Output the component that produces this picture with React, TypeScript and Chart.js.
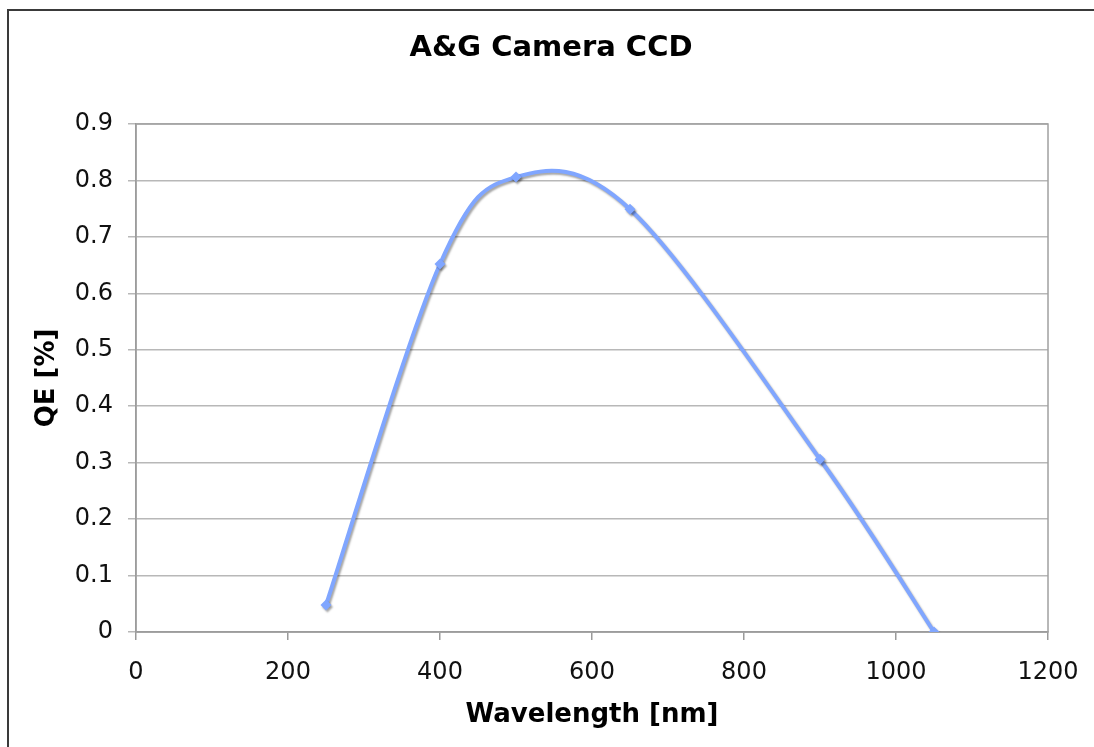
import React, { useEffect, useRef } from "react";
import { Chart, registerables } from "chart.js";

Chart.register(...registerables);

const wavelengths = [250, 400, 500, 650, 900, 1050];
const qeValues = [0.048, 0.652, 0.806, 0.749, 0.306, 0.0];
const chartTitle = "A&G Camera CCD";
const xTitle = "Wavelength [nm]";
const yTitle = "QE [%]";
const xMin = 0;
const xMax = 1200;
const xStep = 200;
const yMin = 0;
const yMax = 0.9;
const yStep = 0.1;

const FONT = "'DejaVu Sans', Verdana, sans-serif";
const LINE_COLOR = "rgb(128,166,255)";

export default function App() {
  const ref = useRef<HTMLCanvasElement>(null);

  useEffect(() => {
    if (!ref.current) return;

    const framePlugin = {
      id: "frame",
      beforeDraw(chart: any) {
        const ctx = chart.ctx;
        ctx.save();
        ctx.fillStyle = "#ffffff";
        ctx.fillRect(0, 0, chart.width, chart.height);
        ctx.fillStyle = "#3a3a3a";
        ctx.fillRect(7, 9, 2, chart.height);
        ctx.fillRect(7, 9, chart.width, 2);
        ctx.restore();
      },
      beforeDatasetsDraw(chart: any) {
        const { ctx, chartArea } = chart;
        ctx.save();
        ctx.strokeStyle = "#a0a0a0";
        ctx.lineWidth = 1.5;
        ctx.strokeRect(chartArea.left, chartArea.top, chartArea.right - chartArea.left, chartArea.bottom - chartArea.top);
        ctx.restore();
      },
    };

    // Excel-like smoothing: uniform Catmull-Rom control points (1/6 of neighbour chord)
    const smoothPlugin = {
      id: "excelSmooth",
      beforeDatasetDraw(chart: any, args: any) {
        const meta = args.meta;
        const line = meta.dataset;
        if (!line) return;
        line.updateControlPoints(chart.chartArea, "x");
        const pts = meta.data;
        const n = pts.length;
        for (let i = 0; i < n; i++) {
          const p = pts[i];
          const prev = pts[Math.max(i - 1, 0)];
          const next = pts[Math.min(i + 1, n - 1)];
          const dx = (next.x - prev.x) / 6;
          const dy = (next.y - prev.y) / 6;
          p.cp1x = p.x - dx;
          p.cp1y = p.y - dy;
          p.cp2x = p.x + dx;
          p.cp2y = p.y + dy;
        }
        const ctx = chart.ctx;
        ctx.save();
        ctx.shadowColor = "rgba(0,0,0,0.35)";
        ctx.shadowOffsetX = 1.5;
        ctx.shadowOffsetY = 2;
        ctx.shadowBlur = 2;
      },
      afterDatasetDraw(chart: any) {
        chart.ctx.restore();
      },
    };

    const chart = new Chart(ref.current, {
      type: "line",
      data: {
        datasets: [
          {
            label: "QE",
            data: wavelengths.map((w, i) => ({ x: w, y: qeValues[i] })),
            borderColor: LINE_COLOR,
            backgroundColor: LINE_COLOR,
            borderWidth: 4,
            tension: 0.4,
            pointStyle: "rectRot",
            pointRadius: 5.5,
            pointBorderWidth: 0,
            pointBackgroundColor: LINE_COLOR,
          },
        ],
      },
      options: {
        animation: false,
        responsive: true,
        maintainAspectRatio: false,
        layout: { padding: { left: 54, right: 46, top: 0, bottom: 0 } },
        plugins: {
          legend: { display: false },
          tooltip: { enabled: false },
          title: {
            display: true,
            text: chartTitle,
            color: "#000",
            font: { family: FONT, size: 29, weight: "bold", lineHeight: 1.2 },
            padding: { top: 31.5, bottom: 57.7 },
          },
        },
        scales: {
          x: {
            type: "linear",
            min: xMin,
            max: xMax,
            afterFit: (s: any) => {
              s.height = 115;
              s.paddingLeft = 0;
              s.paddingRight = 0;
            },
            ticks: {
              stepSize: xStep,
              color: "#111",
              padding: 18,
              maxRotation: 0,
              font: { family: FONT, size: 24 },
              callback: (v: any) => String(v),
            },
            grid: {
              drawOnChartArea: false,
              drawTicks: true,
              tickLength: 8,
              color: "#9a9a9a",
              lineWidth: 1.5,
            },
            border: { display: true, color: "#909090", width: 1.5 },
            title: {
              display: true,
              text: xTitle,
              color: "#000",
              font: { family: FONT, size: 26, weight: "bold", lineHeight: 1.2 },
              padding: { top: 0, bottom: 16 },
            },
          },
          y: {
            type: "linear",
            min: yMin,
            max: yMax,
            afterFit: (s: any) => {
              s.width = 82;
            },
            ticks: {
              stepSize: yStep,
              color: "#111",
              padding: 15,
              font: { family: FONT, size: 24 },
              callback: (v: any) => String(Number(Number(v).toFixed(1))),
            },
            grid: {
              drawOnChartArea: true,
              drawTicks: true,
              tickLength: 8,
              color: "#b8b8b8",
              lineWidth: 1.5,
            },
            border: { display: true, color: "#909090", width: 1.5 },
            title: {
              display: true,
              text: yTitle,
              color: "#000",
              font: { family: FONT, size: 26, weight: "bold", lineHeight: 1.2 },
              padding: { top: -22, bottom: 0 },
            },
          },
        },
      },
      plugins: [framePlugin, smoothPlugin],
    } as any);

    return () => chart.destroy();
  }, []);

  return (
    <div style={{ position: "fixed", left: 0, top: 0, width: 1094, height: 747, background: "#fff" }}>
      <canvas ref={ref} />
    </div>
  );
}
